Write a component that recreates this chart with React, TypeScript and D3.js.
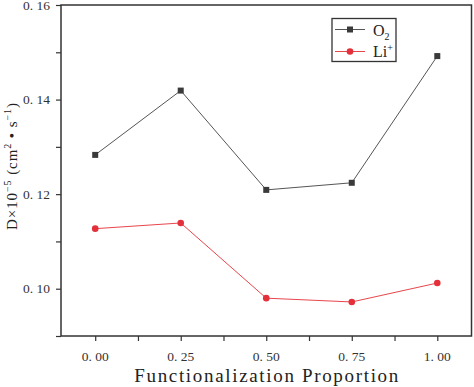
import { useEffect, useRef } from 'react';
import * as d3 from 'd3';

const proportions = [0, 0.25, 0.5, 0.75, 1.0];
const o2Values = [0.1283, 0.1419, 0.1209, 0.1224, 0.1492];
const liValues = [0.1127, 0.1139, 0.098, 0.0972, 0.1012];
const xTicks = [0, 0.25, 0.5, 0.75, 1.0];
const xTickLabels = ['0. 00', '0. 25', '0. 50', '0. 75', '1. 00'];
const yTicks = [0.1, 0.12, 0.14, 0.16];
const yTickLabels = ['0. 10', '0. 12', '0. 14', '0. 16'];

type Pt = { x: number; y: number };

const App = () => {
    const svgRef = useRef<SVGSVGElement | null>(null);

    useEffect(() => {
        if (!svgRef.current) return;
        const svg = d3.select(svgRef.current);
        const width = 474;
        const height = 387;
        const margin = { top: 5, right: 2.5, bottom: 51, left: 61 };
        const serif = '"Liberation Serif", "DejaVu Serif", serif';

        svg.selectAll('*').remove();

        const x = d3
            .scaleLinear()
            .domain([-0.1, 1.1])
            .range([margin.left, width - margin.right]);
        const y = d3
            .scaleLinear()
            .domain([0.09, 0.16])
            .range([height - margin.bottom, margin.top]);

        // frame
        svg
            .append('rect')
            .attr('x', margin.left)
            .attr('y', margin.top)
            .attr('width', width - margin.right - margin.left)
            .attr('height', height - margin.bottom - margin.top)
            .attr('fill', 'none')
            .attr('stroke', '#333')
            .attr('stroke-width', 1.5);

        // X axis
        const xAxis = svg
            .append('g')
            .attr('transform', `translate(0,${height - margin.bottom})`)
            .call(
                d3
                    .axisBottom(x)
                    .tickValues(d3.range(0, 1.01, 0.125))
                    .tickSize(5)
                    .tickFormat(() => '')
            );
        xAxis.select('.domain').remove();
        xAxis.selectAll('line').attr('stroke', '#333').attr('stroke-width', 1.2);

        svg
            .append('g')
            .selectAll('text')
            .data(xTicks)
            .join('text')
            .attr('x', (d) => x(d))
            .attr('y', height - margin.bottom + 25)
            .attr('text-anchor', 'middle')
            .attr('font-family', serif)
            .attr('font-size', 13.5)
            .attr('fill', '#333')
            .text((_, i) => xTickLabels[i]);

        // Y axis
        const yAxis = svg
            .append('g')
            .attr('transform', `translate(${margin.left},0)`)
            .call(
                d3
                    .axisLeft(y)
                    .tickValues(d3.range(0.09, 0.1601, 0.01))
                    .tickSize(5)
                    .tickFormat(() => '')
            );
        yAxis.select('.domain').remove();
        yAxis.selectAll('line').attr('stroke', '#333').attr('stroke-width', 1.2);

        svg
            .append('g')
            .selectAll('text')
            .data(yTicks)
            .join('text')
            .attr('x', margin.left - 11)
            .attr('y', (d) => y(d) + 4.5)
            .attr('text-anchor', 'end')
            .attr('font-family', serif)
            .attr('font-size', 13.5)
            .attr('fill', '#333')
            .text((_, i) => yTickLabels[i]);

        // axis titles
        svg
            .append('text')
            .attr('x', (x(0) + x(1)) / 2)
            .attr('y', height - 5)
            .attr('text-anchor', 'middle')
            .attr('font-family', serif)
            .attr('font-size', 19)
            .attr('textLength', 264)
            .attr('fill', '#222')
            .text('Functionalization Proportion');

        const yTitle = svg
            .append('text')
            .attr('transform', `translate(17,${(y(0.09) + y(0.16)) / 2 - 4}) rotate(-90)`)
            .attr('text-anchor', 'middle')
            .attr('font-family', serif)
            .attr('font-size', 15)
            .attr('textLength', 127)
            .attr('fill', '#222');
        yTitle.append('tspan').text('D×10');
        yTitle.append('tspan').attr('dy', -6).attr('font-size', 10).text('−5');
        yTitle.append('tspan').attr('dy', 6).text('  (cm');
        yTitle.append('tspan').attr('dy', -6).attr('font-size', 10).text('2');
        yTitle.append('tspan').attr('dy', 6).text(' • s');
        yTitle.append('tspan').attr('dy', -6).attr('font-size', 10).text('−1');
        yTitle.append('tspan').attr('dy', 6).text(')');

        const line = d3
            .line<Pt>()
            .x((d) => x(d.x))
            .y((d) => y(d.y));

        const o2 = proportions.map((p, i) => ({ x: p, y: o2Values[i] }));
        const li = proportions.map((p, i) => ({ x: p, y: liValues[i] }));

        svg
            .append('path')
            .datum(o2)
            .attr('fill', 'none')
            .attr('stroke', '#555')
            .attr('stroke-width', 1)
            .attr('d', line);
        svg
            .append('g')
            .selectAll('rect')
            .data(o2)
            .join('rect')
            .attr('x', (d) => x(d.x) - 3)
            .attr('y', (d) => y(d.y) - 3)
            .attr('width', 6)
            .attr('height', 6)
            .attr('fill', '#3a3a3a');

        svg
            .append('path')
            .datum(li)
            .attr('fill', 'none')
            .attr('stroke', '#e8464c')
            .attr('stroke-width', 1)
            .attr('d', line);
        svg
            .append('g')
            .selectAll('circle')
            .data(li)
            .join('circle')
            .attr('cx', (d) => x(d.x))
            .attr('cy', (d) => y(d.y))
            .attr('r', 3.3)
            .attr('fill', '#e3303a');

        // legend
        const lg = svg.append('g').attr('transform', 'translate(332,18.5)');
        lg.append('rect')
            .attr('width', 64)
            .attr('height', 43)
            .attr('fill', 'white')
            .attr('stroke', '#333')
            .attr('stroke-width', 1.3);
        lg.append('line').attr('x1', 3).attr('x2', 33).attr('y1', 11).attr('y2', 11).attr('stroke', '#555');
        lg.append('rect').attr('x', 15).attr('y', 8).attr('width', 6).attr('height', 6).attr('fill', '#3a3a3a');
        lg.append('line').attr('x1', 3).attr('x2', 33).attr('y1', 33).attr('y2', 33).attr('stroke', '#e8464c');
        lg.append('circle').attr('cx', 18).attr('cy', 33).attr('r', 3.3).attr('fill', '#e3303a');

        const t1 = lg
            .append('text')
            .attr('x', 41)
            .attr('y', 17)
            .attr('font-family', serif)
            .attr('font-size', 16)
            .attr('fill', '#222');
        t1.append('tspan').text('O');
        t1.append('tspan').attr('dy', 4).attr('font-size', 10).text('2');

        const t2 = lg
            .append('text')
            .attr('x', 41)
            .attr('y', 38)
            .attr('font-family', serif)
            .attr('font-size', 16)
            .attr('fill', '#222');
        t2.append('tspan').text('Li');
        t2.append('tspan').attr('dy', -6).attr('font-size', 10).text('+');
    }, []);

    return (
        <svg
            ref={svgRef}
            width={474}
            height={387}
            style={{ position: 'absolute', left: 0, top: 0, background: 'white' }}
        />
    );
};

export default App;
